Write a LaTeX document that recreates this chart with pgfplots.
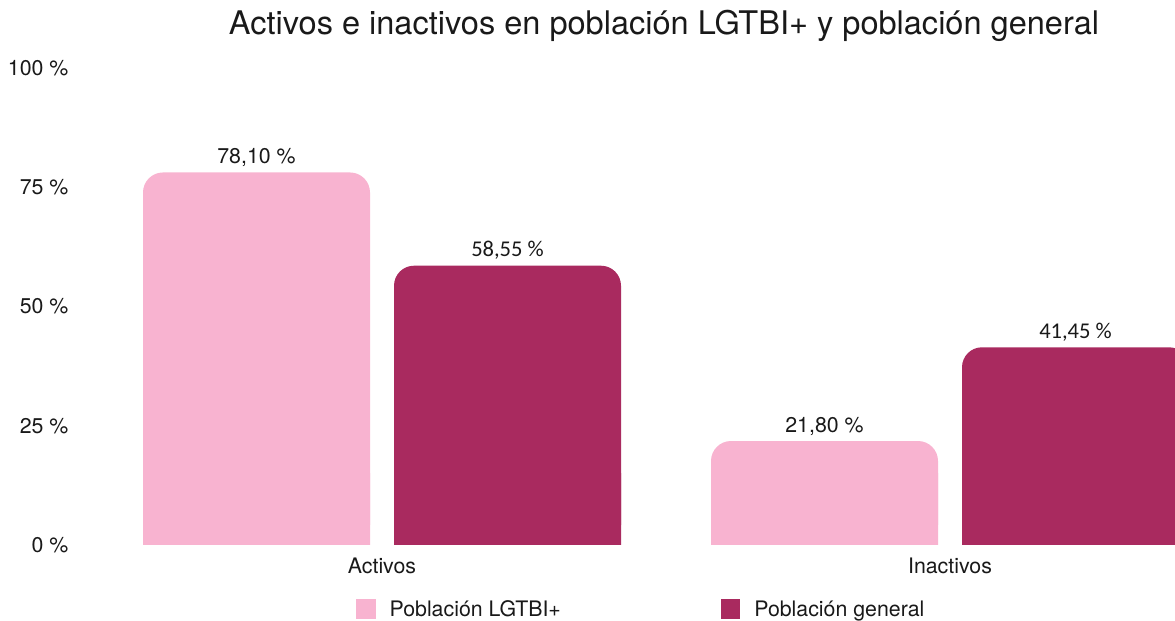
\documentclass[border=0pt]{standalone}
\usepackage{fontspec}
\setmainfont{TeX Gyre Heros}
\newfontfamily\labfont{Carlito}
\usepackage{pgfplots}
\pgfplotsset{compat=1.18}
\definecolor{lgtbi}{RGB}{248,179,208}
\definecolor{general}{RGB}{169,42,95}
\definecolor{txt}{RGB}{25,25,25}
\begin{document}
\begin{tikzpicture}[x=1pt,y=1pt]
\useasboundingbox (0,0) rectangle (881.25,465.75);
\node[anchor=base, font=\fontsize{24.4}{29}\selectfont, text=txt, inner sep=0pt] at (498,439.5) {Activos e inactivos en población LGTBI+ y población general};
\begin{axis}[
  at={(73.5pt,57pt)}, anchor=south west,
  scale only axis, width=852pt, height=357.75pt,
  xmin=-0.5, xmax=1.5, ymin=0, ymax=100,
  ytick={0,25,50,75,100},
  yticklabels={0 \%,25 \%,50 \%,75 \%,100 \%},
  xtick={0,1}, xticklabels={Activos,Inactivos},
  axis line style={draw=none},
  major tick length=0pt,
  tick label style={font=\fontsize{16}{19}\selectfont, text=txt},
  yticklabel style={anchor=east, inner sep=0pt, xshift=-22pt},
  xticklabel style={anchor=center, inner sep=0pt, yshift=-15.75pt},
  ybar=18pt, bar width=170.25pt,
  point meta=explicit symbolic,
  nodes near coords,
  every node near coord/.append style={anchor=base, inner sep=0pt, yshift=6.75pt, text=txt, font=\fontsize{16}{19}\selectfont},
  legend style={at={(0.2271,-0.1352)}, anchor=base west, draw=none, fill=none, inner sep=0pt,
    font=\fontsize{16}{19}\selectfont, text=txt,
    /tikz/every odd column/.append style={column sep=10.5pt},
    /tikz/every even column/.append style={column sep=120pt},
    nodes={inner sep=0pt}},
  legend columns=2, legend cell align=left,
  legend image code/.code={\fill[#1, sharp corners] (0pt,-6.9pt) rectangle (14.5pt,8.1pt);},
]
\addplot[fill=lgtbi, draw=none, rounded corners=15pt] coordinates {(0,78.10) [78,10 \%] (1,21.80) [21,80 \%]};
\addlegendentry{Población LGTBI+}
\addplot[fill=general, draw=none, rounded corners=15pt, every node near coord/.append style={font=\labfont\fontsize{16.9}{19}\selectfont}] coordinates {(0,58.55) [58,55 \%] (1,41.45) [41,45 \%]};
\addlegendentry{Población general}
\end{axis}
% square bottoms of the same bars (lower part only)
\begin{axis}[
  at={(73.5pt,57pt)}, anchor=south west,
  scale only axis, width=852pt, height=53.6625pt,
  xmin=-0.5, xmax=1.5, ymin=0, ymax=15,
  hide axis,
  ybar=18pt, bar width=170.25pt,
]
\addplot[fill=lgtbi, draw=none] coordinates {(0,78.10) (1,21.80)};
\addplot[fill=general, draw=none] coordinates {(0,58.55) (1,41.45)};
\end{axis}
\end{tikzpicture}
\end{document}
